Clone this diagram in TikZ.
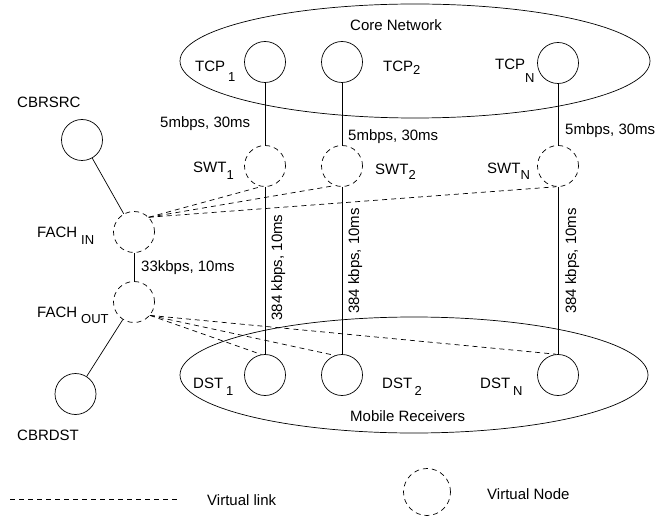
\documentclass[tikz,border=0pt]{standalone}
\usepackage{fontspec}
\setmainfont{Liberation Sans}
\usetikzlibrary{shapes.geometric}
\newcommand\lsub[3]{\hspace{#1pt}\raisebox{-#2pt}{\fontsize{13}{13}\selectfont #3}}
\begin{document}
\begin{tikzpicture}[x=1pt,y=-1pt,
  every node/.style={font=\fontsize{15}{18}\selectfont},
  thin line/.style={line width=0.7pt},
  realnode/.style={circle, draw, line width=0.7pt, minimum size=41pt, inner sep=0pt},
  virtnode/.style={circle, draw, line width=0.7pt, dash pattern=on 5pt off 4pt, minimum size=41pt, inner sep=0pt},
  region/.style={ellipse, draw, line width=0.7pt, inner sep=0pt},
  lbl/.style={inner sep=0pt, anchor=base west},
  vlink/.style={line width=0.7pt, dash pattern=on 5pt off 4pt},
  link/.style={line width=0.7pt}]
\useasboundingbox (0,0) rectangle (660,518);

% regions
\node[region, minimum width=470pt, minimum height=114pt] (core) at (415,61) {};
\node[region, minimum width=468pt, minimum height=116pt] (mobile) at (414,375) {};
\node[lbl] (corel) at (350,30.5) {Core Network};
\node[lbl] (mobilel) at (350,421.5) {Mobile Receivers};

% nodes
\node[realnode] (tcp1) at (265,62) {};
\node[realnode] (tcp2) at (342,62) {};
\node[realnode] (tcpN) at (558,63) {};
\node[virtnode] (swt1) at (265,166) {};
\node[virtnode] (swt2) at (342,166) {};
\node[virtnode] (swtN) at (558,166) {};
\node[realnode] (dst1) at (265,375) {};
\node[realnode] (dst2) at (342,375) {};
\node[realnode] (dstN) at (558,375) {};
\node[realnode] (cbrsrc) at (82,140) {};
\node[virtnode] (fachin) at (134,232) {};
\node[virtnode] (fachout) at (134,302) {};
\node[realnode] (cbrdst) at (75.5,394) {};

% node labels
\node[lbl] (tcp1l) at (195,71.5) {TCP\lsub{3}{10.5}{1}};
\node[lbl] (tcp2l) at (383,71.5) {TCP\lsub{0}{3.5}{2}};
\node[lbl] (tcpNl) at (495,70) {TCP\lsub{0}{13}{N}};
\node[lbl] (swt1l) at (193,173) {SWT\lsub{0}{7}{1}};
\node[lbl] (swt2l) at (375,175) {SWT\lsub{0}{5}{2}};
\node[lbl] (swtNl) at (487,174) {SWT\lsub{0}{6}{N}};
\node[lbl] (dst1l) at (193,388) {DST\lsub{3}{7}{1}};
\node[lbl] (dst2l) at (382,388) {DST\lsub{2.5}{7}{2}};
\node[lbl] (dstNl) at (480,388) {DST\lsub{3}{7}{N}};
\node[lbl] (fachinl) at (37,238) {FACH\lsub{4}{7}{IN}};
\node[lbl] (fachoutl) at (37,317) {FACH\lsub{4}{6}{OUT}};
\node[lbl] (cbrsrcl) at (17,108) {CBRSRC};
\node[lbl] (cbrdstl) at (17,440) {CBRDST};

% real links
\draw[link] (tcp1.south) -- (swt1.north);
\draw[link] (tcp2.south) -- (swt2.north);
\draw[link] (tcpN.south) -- (swtN.north);
\draw[link] (swt1.south) -- (dst1.north);
\draw[link] (swt2.south) -- (dst2.north);
\draw[link] (swtN.south) -- (dstN.north);
\draw[link] (cbrsrc) -- (fachin);
\draw[link] (fachout) -- (cbrdst);
\draw[link] (fachin.south) -- (fachout.north);

% link labels
\node[lbl] (bwa1) at (160,128) {5mbps, 30ms};
\node[lbl] (bwa2) at (348,141) {5mbps, 30ms};
\node[lbl] (bwaN) at (565,135) {5mbps, 30ms};
\node[lbl] (bwf) at (141,271.5) {33kbps, 10ms};
\node[inner sep=0pt, anchor=base, rotate=90] (bwb1) at (282,267.5) {384 kbps, 10ms};
\node[inner sep=0pt, anchor=base, rotate=90] (bwb2) at (359,261) {384 kbps, 10ms};
\node[inner sep=0pt, anchor=base, rotate=90] (bwbN) at (576,261) {384 kbps, 10ms};

% virtual links
\draw[vlink] (fachin.45) -- (swt1.-100);
\draw[vlink] (fachin.45) -- (swt2.-110);
\draw[vlink] (fachin.45) -- (swtN.-95);
\draw[vlink] (fachout.-40) -- (dst1.100);
\draw[vlink] (fachout.-40) -- (dst2.110);
\draw[vlink] (fachout.-40) -- (dstN.95);

% legend
\coordinate (vla) at (10,499);
\coordinate (vlb) at (180,499);
\draw[vlink] (vla) -- (vlb);
\node[lbl] (vll) at (207,505) {Virtual link};
\node[virtnode, minimum size=47pt] (vnode) at (427,492) {};
\node[lbl] (vnl) at (487,499) {Virtual Node};
\end{tikzpicture}
\end{document}
